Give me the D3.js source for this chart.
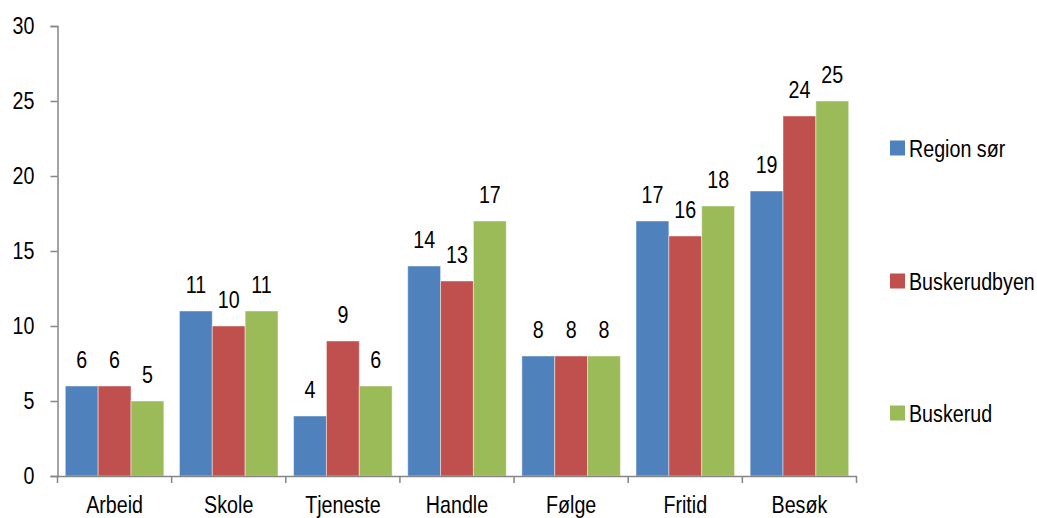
<!DOCTYPE html>
<html><head><meta charset="utf-8">
<script src="https://cdn.jsdelivr.net/npm/d3@7"></script>
<style>
html,body{margin:0;padding:0;background:#fff;}
text{font-family:"Liberation Sans",Arial,sans-serif;fill:#000;}
</style></head>
<body><svg id="c" width="1037" height="518"></svg>
<script>
const categories = ["Arbeid","Skole","Tjeneste","Handle","Følge","Fritid","Besøk"];
const seriesNames = ["Region sør","Buskerudbyen","Buskerud"];
const regionSor = [6,11,4,14,8,17,19];
const buskerudbyen = [6,10,9,13,8,16,24];
const buskerud = [5,11,6,17,8,18,25];
const yTicks = [0,5,10,15,20,25,30];
const colors = ["#4F81BD","#C0504D","#9BBB59"];
const seriesValues = [regionSor, buskerudbyen, buskerud];

const SX = 0.82, FS = 24;
const svg = d3.select("#c");
const mLeft = 57.5, mRight = 856.5, mTop = 26, mBottom = 476;
const x = d3.scaleBand().domain(categories).range([mLeft, mRight]).padding(0);
const y = d3.scaleLinear().domain([0,30]).range([mBottom, mTop]);
const pad = 7.8;
const xs = d3.scaleBand().domain(seriesNames).range([pad, x.bandwidth()-pad]).padding(0);

function narrow(sel){
  sel.each(function(){
    const t = d3.select(this);
    const tx = +(t.attr("x")||0), ty = +(t.attr("y")||0);
    t.attr("x",0).attr("y",0).attr("transform",`translate(${tx},${ty}) scale(${SX},1)`);
  });
}

// bars
categories.forEach((c,i)=>{
  seriesNames.forEach((s,j)=>{
    const v = seriesValues[j][i];
    const bx = x(c)+xs(s);
    svg.append("rect").attr("x",bx).attr("y",y(v)).attr("width",xs.bandwidth()).attr("height",y(0)-y(v))
      .attr("fill",colors[j]).attr("stroke","#ffffff").attr("stroke-opacity",0.45).attr("stroke-width",1);
    svg.append("text").attr("x",bx+xs.bandwidth()/2).attr("y",y(v)-18).attr("text-anchor","middle")
      .attr("font-size",FS).text(v).call(narrow);
  });
});

// y axis
const yAxis = svg.append("g").attr("transform",`translate(${mLeft},0)`)
  .call(d3.axisLeft(y).tickValues(yTicks).tickSize(7).tickPadding(16));
yAxis.select(".domain").attr("stroke","#868686").attr("stroke-width",1.5);
yAxis.selectAll(".tick line").attr("stroke","#868686").attr("stroke-width",1.5);
yAxis.selectAll(".tick text").attr("font-size",FS).attr("fill","#000").attr("font-family",null).call(narrow);

// x axis
const xAxis = svg.append("g").attr("transform",`translate(0,${mBottom})`)
  .call(d3.axisBottom(x).tickSize(0).tickPadding(20));
xAxis.select(".domain").attr("stroke","#868686").attr("stroke-width",1.5);
xAxis.selectAll(".tick text").attr("font-size",FS).attr("fill","#000").attr("font-family",null).call(narrow);
const bounds = categories.map(c=>x(c)).concat([mRight]);
svg.append("g").selectAll("line").data(bounds).join("line")
  .attr("x1",d=>d).attr("x2",d=>d).attr("y1",mBottom).attr("y2",mBottom+7)
  .attr("stroke","#868686").attr("stroke-width",1.5);

// legend
const legY = [148,281,413];
const leg = svg.append("g");
seriesNames.forEach((s,j)=>{
  leg.append("rect").attr("x",890).attr("y",legY[j]-7.5).attr("width",15).attr("height",15).attr("fill",colors[j]);
  leg.append("text").attr("x",909).attr("y",legY[j]+8.6).attr("font-size",FS).text(s).call(narrow);
});
</script></body></html>
